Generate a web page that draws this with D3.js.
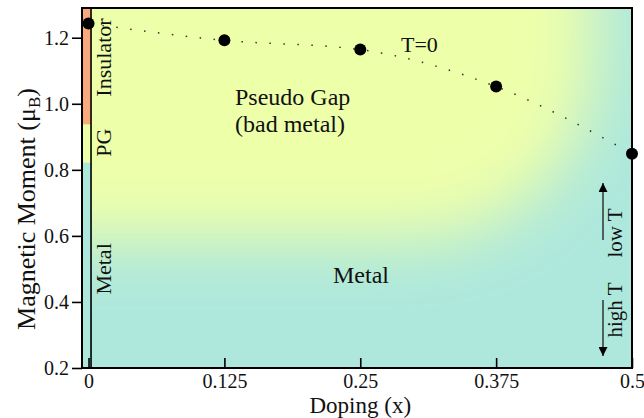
<!DOCTYPE html>
<head>
  <meta charset="utf-8">
  <script src="https://d3js.org/d3.v7.min.js"></script>
  <style>
    body { margin:0; background:#fff; }
    svg { display:block; }
    text { font-family: "Liberation Serif", "Times New Roman", serif; fill:#111; }
  </style>
</head>
<body>
  <svg width="644" height="418"></svg>
  <script>
    // T=0 moment vs doping
    var dopings = [0, 0.125, 0.25, 0.375, 0.5];
    var moments = [1.243, 1.192, 1.164, 1.052, 0.849];

    var xTicks = [0, 0.125, 0.25, 0.375, 0.5];
    var yTicks = [0.2, 0.4, 0.6, 0.8, 1.0, 1.2];

    // undoped strip at x=0: phase bands (moment ranges)
    var bandNames = ['Insulator', 'PG', 'Metal'];
    var bandTop = [1.29, 0.937, 0.822];
    var bandBottom = [0.937, 0.822, 0.2];
    var bandLabelAt = [1.14, 0.882, 0.5];

    var yellow = '#eeffaa', teal = '#aee8dc', orange = '#f9aa7c';
    var bandColor = {Insulator: orange, PG: yellow, Metal: teal};

    var margin = {top: 8, right: 12, bottom: 50, left: 82};
    var width = 644, height = 418;

    var x = d3.scaleLinear().domain([-0.006, 0.5]).range([margin.left, width - margin.right]);
    var y = d3.scaleLinear().domain([0.2, 1.29]).range([height - margin.bottom, margin.top]);

    var svg = d3.select('svg');
    var defs = svg.append('defs');

    var x0 = x.range()[0], x1 = x.range()[1];
    var yTop = y.range()[1], yBot = y.range()[0];

    defs.append('clipPath').attr('id', 'plot')
      .append('rect')
      .attr('x', x0).attr('y', yTop)
      .attr('width', x1 - x0).attr('height', yBot - yTop);

    defs.append('filter')
      .attr('id', 'soft')
      .attr('filterUnits', 'userSpaceOnUse')
      .attr('x', -400).attr('y', -400).attr('width', 1400).attr('height', 1200)
      .append('feGaussianBlur').attr('stdDeviation', 32);

    defs.append('marker')
      .attr('id', 'head')
      .attr('viewBox', '0 0 10 10')
      .attr('refX', 10).attr('refY', 5)
      .attr('markerWidth', 9).attr('markerHeight', 9)
      .attr('markerUnits', 'userSpaceOnUse')
      .attr('orient', 'auto')
      .append('path').attr('d', 'M0,0 L10,5 L0,10 z').attr('fill', '#000');

    // background: teal metal with a soft yellow pseudo-gap region on top
    var bg = svg.append('g').attr('clip-path', 'url(#plot)');
    bg.append('rect')
      .attr('x', x0).attr('y', yTop)
      .attr('width', x1 - x0).attr('height', yBot - yTop)
      .attr('fill', teal);
    bg.append('rect')
      .attr('x', -200).attr('y', -200)
      .attr('width', x(0.465) + 200).attr('height', y(0.59) + 200)
      .attr('rx', 180)
      .attr('fill', yellow)
      .attr('filter', 'url(#soft)');

    // strip
    var stripRight = x(0.0023);
    svg.selectAll('rect.band')
      .data(bandNames)
      .enter().append('rect')
      .attr('class', 'band')
      .attr('x', x0)
      .attr('y', (d, i) => y(bandTop[i]))
      .attr('width', stripRight - x0)
      .attr('height', (d, i) => y(bandBottom[i]) - y(bandTop[i]))
      .attr('fill', d => bandColor[d]);

    svg.append('line')
      .attr('x1', stripRight).attr('x2', stripRight)
      .attr('y1', yTop).attr('y2', yBot)
      .attr('stroke', '#000').attr('stroke-width', 1.6);

    svg.selectAll('text.band')
      .data(bandNames)
      .enter().append('text')
      .attr('class', 'band')
      .attr('transform', (d, i) => 'translate(' + [111, y(bandLabelAt[i])] + ') rotate(-90)')
      .attr('text-anchor', 'middle')
      .style('font-size', '22px')
      .text(d => d);

    // dotted T=0 curve + points
    var pts = dopings.map((d, i) => [d, moments[i]]);
    var line = d3.line()
      .x(d => x(d[0])).y(d => y(d[1]))
      .curve(d3.curveMonotoneX);

    svg.append('path')
      .attr('d', line(pts))
      .attr('fill', 'none')
      .attr('stroke', '#333')
      .attr('stroke-width', 1.5)
      .attr('stroke-dasharray', '1.5,12.5');

    svg.selectAll('circle')
      .data(pts)
      .enter().append('circle')
      .attr('cx', d => x(d[0])).attr('cy', d => y(d[1]))
      .attr('r', 6).attr('fill', '#000');

    // region labels
    svg.append('text').attr('x', 235).attr('y', 105).style('font-size', '24px').text('Pseudo Gap');
    svg.append('text').attr('x', 235).attr('y', 132).style('font-size', '24px').text('(bad metal)');
    svg.append('text').attr('x', 333).attr('y', 283).style('font-size', '24px').text('Metal');
    svg.append('text').attr('x', 401).attr('y', 52).style('font-size', '22px').text('T=0');

    // temperature arrows
    svg.append('line')
      .attr('x1', 603).attr('x2', 603).attr('y1', 240).attr('y2', 183)
      .attr('stroke', '#333').attr('stroke-width', 1.5)
      .attr('marker-end', 'url(#head)');
    svg.append('line')
      .attr('x1', 603).attr('x2', 603).attr('y1', 300).attr('y2', 356)
      .attr('stroke', '#333').attr('stroke-width', 1.5)
      .attr('marker-end', 'url(#head)');
    svg.append('text')
      .attr('transform', 'translate(622,233) rotate(-90)')
      .attr('text-anchor', 'middle').style('font-size', '21px').text('low T');
    svg.append('text')
      .attr('transform', 'translate(622,310) rotate(-90)')
      .attr('text-anchor', 'middle').style('font-size', '21px').text('high T');

    // axes
    var xAxis = d3.axisBottom(x).tickValues(xTicks).tickSize(-10).tickPadding(6)
      .tickFormat(d3.format(''));
    var yAxis = d3.axisLeft(y).tickValues(yTicks).tickSize(10).tickPadding(3)
      .tickFormat(d3.format('.1f'));

    var gx = svg.append('g')
      .attr('transform', 'translate(' + [0, yBot] + ')')
      .call(xAxis);
    gx.select('.domain').remove();
    gx.selectAll('line').attr('stroke-width', 1.6);
    gx.selectAll('text').style('font-size', '20px').attr('fill', '#111');

    var gy = svg.append('g')
      .attr('transform', 'translate(' + [x0, 0] + ')')
      .call(yAxis);
    gy.select('.domain').remove();
    gy.selectAll('line').attr('stroke-width', 1.6);
    gy.selectAll('text').style('font-size', '20px').attr('fill', '#111');

    svg.append('rect')
      .attr('x', x0).attr('y', yTop)
      .attr('width', x1 - x0).attr('height', yBot - yTop)
      .attr('fill', 'none').attr('stroke', '#000').attr('stroke-width', 2);

    svg.append('text')
      .attr('x', (x(0) + x1) / 2).attr('y', 413)
      .attr('text-anchor', 'middle').style('font-size', '23px')
      .text('Doping (x)');

    var yt = svg.append('text')
      .attr('transform', 'translate(35,209) rotate(-90)')
      .attr('text-anchor', 'middle').style('font-size', '26px');
    yt.append('tspan').text('Magnetic Moment (\u03bc');
    yt.append('tspan').attr('dy', 5).style('font-size', '17px').text('B');
    yt.append('tspan').attr('dy', -5).text(')');
  </script>
</body>
